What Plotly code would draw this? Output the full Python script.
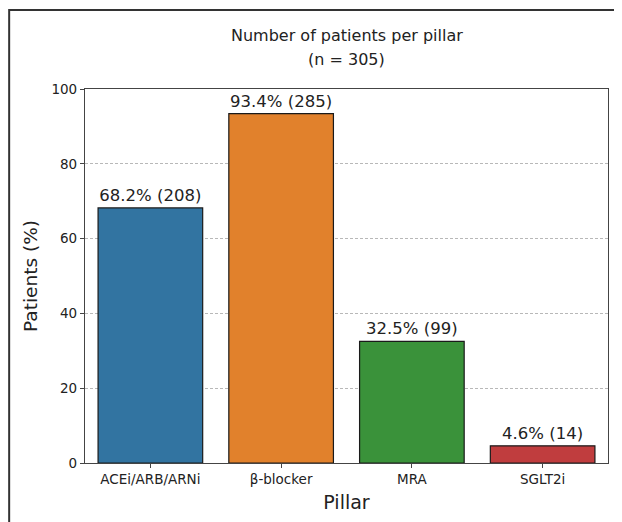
import plotly.graph_objects as go

categories = ["ACEi/ARB/ARNi", "β-blocker", "MRA", "SGLT2i"]
percent = [68.2, 93.4, 32.5, 4.6]
counts = [208, 285, 99, 14]
colors = ["#3274a1", "#e1812c", "#3a923a", "#c03d3e"]
yticks = [0, 20, 40, 60, 80, 100]
title_lines = ["Number of patients per pillar", "(n = 305)"]

labels = [f"{p}% ({c})" for p, c in zip(percent, counts)]

fig = go.Figure()
fig.add_trace(go.Bar(
    x=categories, y=percent,
    marker=dict(color=colors, line=dict(color="#1a1a1a", width=1.2)),
    width=0.8,
    text=labels, textposition="outside", cliponaxis=False,
    textfont=dict(size=16.5, color="#222", family="DejaVu Sans"),
))

fig.update_layout(
    width=614, height=514,
    paper_bgcolor="white", plot_bgcolor="white",
    margin=dict(l=77, r=14, t=81, b=59),
    font=dict(family="DejaVu Sans", color="#222"),
    showlegend=False,
    shapes=[dict(type="rect", xref="paper", yref="paper", x0=-0.145, x1=1.1, y0=-0.3, y1=1.211,
                 line=dict(color="#333", width=2), layer="below")],
    annotations=[
        dict(text=title_lines[0], xref="paper", yref="paper", x=0.5, y=1.144,
             xanchor="center", yanchor="middle", showarrow=False, font=dict(size=16)),
        dict(text=title_lines[1], xref="paper", yref="paper", x=0.5, y=1.080,
             xanchor="center", yanchor="middle", showarrow=False, font=dict(size=16)),
    ],
)
fig.update_xaxes(
    range=[-0.5, 3.5], showline=True, mirror=True, linecolor="#444", linewidth=1.2,
    ticks="outside", ticklen=4, tickcolor="#444", tickfont=dict(size=13.5),
    title=dict(text="Pillar", font=dict(size=19), standoff=9), showgrid=False,
)
fig.update_yaxes(
    range=[0, 100], tickvals=yticks, showline=True, mirror=True, linecolor="#444", linewidth=1.2,
    ticks="outside", ticklen=4, tickcolor="#444", tickfont=dict(size=13.5),
    title=dict(text="Patients (%)", font=dict(size=18.5), standoff=8),
    showgrid=True, gridcolor="#b8b8b8", griddash="3px,2px", gridwidth=0.8, zeroline=False,
)

fig.write_html("out.html")
